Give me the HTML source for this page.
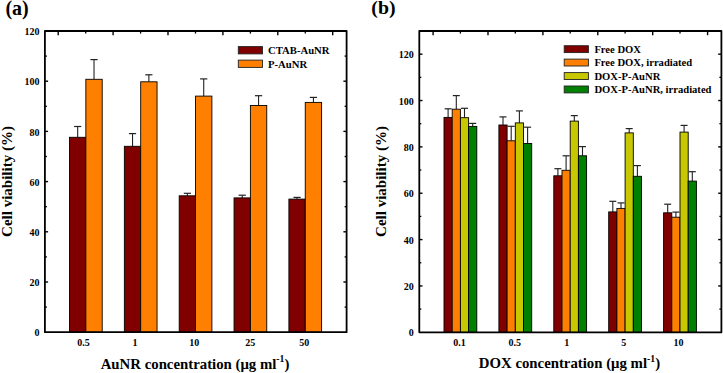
<!DOCTYPE html>
<html><head><meta charset="utf-8"><title>Cell viability charts</title>
<style>html,body{margin:0;padding:0;background:#fff;width:723px;height:373px;overflow:hidden}svg{display:block}</style>
</head><body>
<svg width="723" height="373" viewBox="0 0 723 373" font-family='"Liberation Serif", serif' font-weight="bold">
<rect x="0" y="0" width="723" height="373" fill="#fff"/>
<text x="39.60" y="336.30" font-size="10" text-anchor="end" >0</text>
<line x1="44.90" y1="307.10" x2="46.90" y2="307.10" stroke="#000" stroke-width="1.3"/>
<line x1="344.60" y1="307.10" x2="346.60" y2="307.10" stroke="#000" stroke-width="1.3"/>
<line x1="44.90" y1="282.00" x2="48.10" y2="282.00" stroke="#000" stroke-width="1.4"/>
<line x1="343.40" y1="282.00" x2="346.60" y2="282.00" stroke="#000" stroke-width="1.4"/>
<text x="39.60" y="286.10" font-size="10" text-anchor="end" >20</text>
<line x1="44.90" y1="256.90" x2="46.90" y2="256.90" stroke="#000" stroke-width="1.3"/>
<line x1="344.60" y1="256.90" x2="346.60" y2="256.90" stroke="#000" stroke-width="1.3"/>
<line x1="44.90" y1="231.80" x2="48.10" y2="231.80" stroke="#000" stroke-width="1.4"/>
<line x1="343.40" y1="231.80" x2="346.60" y2="231.80" stroke="#000" stroke-width="1.4"/>
<text x="39.60" y="235.90" font-size="10" text-anchor="end" >40</text>
<line x1="44.90" y1="206.70" x2="46.90" y2="206.70" stroke="#000" stroke-width="1.3"/>
<line x1="344.60" y1="206.70" x2="346.60" y2="206.70" stroke="#000" stroke-width="1.3"/>
<line x1="44.90" y1="181.60" x2="48.10" y2="181.60" stroke="#000" stroke-width="1.4"/>
<line x1="343.40" y1="181.60" x2="346.60" y2="181.60" stroke="#000" stroke-width="1.4"/>
<text x="39.60" y="185.70" font-size="10" text-anchor="end" >60</text>
<line x1="44.90" y1="156.50" x2="46.90" y2="156.50" stroke="#000" stroke-width="1.3"/>
<line x1="344.60" y1="156.50" x2="346.60" y2="156.50" stroke="#000" stroke-width="1.3"/>
<line x1="44.90" y1="131.40" x2="48.10" y2="131.40" stroke="#000" stroke-width="1.4"/>
<line x1="343.40" y1="131.40" x2="346.60" y2="131.40" stroke="#000" stroke-width="1.4"/>
<text x="39.60" y="135.50" font-size="10" text-anchor="end" >80</text>
<line x1="44.90" y1="106.30" x2="46.90" y2="106.30" stroke="#000" stroke-width="1.3"/>
<line x1="344.60" y1="106.30" x2="346.60" y2="106.30" stroke="#000" stroke-width="1.3"/>
<line x1="44.90" y1="81.20" x2="48.10" y2="81.20" stroke="#000" stroke-width="1.4"/>
<line x1="343.40" y1="81.20" x2="346.60" y2="81.20" stroke="#000" stroke-width="1.4"/>
<text x="39.60" y="85.30" font-size="10" text-anchor="end" >100</text>
<line x1="44.90" y1="56.10" x2="46.90" y2="56.10" stroke="#000" stroke-width="1.3"/>
<line x1="344.60" y1="56.10" x2="346.60" y2="56.10" stroke="#000" stroke-width="1.3"/>
<text x="39.60" y="35.10" font-size="10" text-anchor="end" >120</text>
<line x1="58.20" y1="31.00" x2="58.20" y2="35.20" stroke="#000" stroke-width="1.4"/>
<line x1="113.10" y1="31.00" x2="113.10" y2="35.20" stroke="#000" stroke-width="1.4"/>
<line x1="168.00" y1="31.00" x2="168.00" y2="35.20" stroke="#000" stroke-width="1.4"/>
<line x1="222.90" y1="31.00" x2="222.90" y2="35.20" stroke="#000" stroke-width="1.4"/>
<line x1="277.80" y1="31.00" x2="277.80" y2="35.20" stroke="#000" stroke-width="1.4"/>
<line x1="332.70" y1="31.00" x2="332.70" y2="35.20" stroke="#000" stroke-width="1.4"/>
<line x1="85.70" y1="31.00" x2="85.70" y2="33.60" stroke="#000" stroke-width="1.3"/>
<line x1="140.60" y1="31.00" x2="140.60" y2="33.60" stroke="#000" stroke-width="1.3"/>
<line x1="195.50" y1="31.00" x2="195.50" y2="33.60" stroke="#000" stroke-width="1.3"/>
<line x1="250.40" y1="31.00" x2="250.40" y2="33.60" stroke="#000" stroke-width="1.3"/>
<line x1="305.30" y1="31.00" x2="305.30" y2="33.60" stroke="#000" stroke-width="1.3"/>
<line x1="77.67" y1="137.30" x2="77.67" y2="126.50" stroke="#222" stroke-width="1.1"/>
<line x1="74.08" y1="126.50" x2="81.27" y2="126.50" stroke="#222" stroke-width="1.2"/>
<line x1="94.02" y1="79.30" x2="94.02" y2="59.60" stroke="#222" stroke-width="1.1"/>
<line x1="90.42" y1="59.60" x2="97.62" y2="59.60" stroke="#222" stroke-width="1.2"/>
<rect x="69.50" y="137.30" width="16.35" height="194.90" fill="#800000" stroke="#000" stroke-width="0.9"/>
<rect x="85.85" y="79.30" width="16.35" height="252.90" fill="#ff8000" stroke="#000" stroke-width="0.9"/>
<line x1="132.53" y1="146.30" x2="132.53" y2="133.60" stroke="#222" stroke-width="1.1"/>
<line x1="128.93" y1="133.60" x2="136.12" y2="133.60" stroke="#222" stroke-width="1.2"/>
<line x1="148.88" y1="81.80" x2="148.88" y2="74.80" stroke="#222" stroke-width="1.1"/>
<line x1="145.28" y1="74.80" x2="152.47" y2="74.80" stroke="#222" stroke-width="1.2"/>
<rect x="124.35" y="146.30" width="16.35" height="185.90" fill="#800000" stroke="#000" stroke-width="0.9"/>
<rect x="140.70" y="81.80" width="16.35" height="250.40" fill="#ff8000" stroke="#000" stroke-width="0.9"/>
<line x1="187.38" y1="195.80" x2="187.38" y2="193.30" stroke="#222" stroke-width="1.1"/>
<line x1="183.78" y1="193.30" x2="190.97" y2="193.30" stroke="#222" stroke-width="1.2"/>
<line x1="203.72" y1="96.10" x2="203.72" y2="78.90" stroke="#222" stroke-width="1.1"/>
<line x1="200.12" y1="78.90" x2="207.32" y2="78.90" stroke="#222" stroke-width="1.2"/>
<rect x="179.20" y="195.80" width="16.35" height="136.40" fill="#800000" stroke="#000" stroke-width="0.9"/>
<rect x="195.55" y="96.10" width="16.35" height="236.10" fill="#ff8000" stroke="#000" stroke-width="0.9"/>
<line x1="242.23" y1="197.90" x2="242.23" y2="195.20" stroke="#222" stroke-width="1.1"/>
<line x1="238.63" y1="195.20" x2="245.83" y2="195.20" stroke="#222" stroke-width="1.2"/>
<line x1="258.57" y1="105.50" x2="258.57" y2="95.70" stroke="#222" stroke-width="1.1"/>
<line x1="254.97" y1="95.70" x2="262.18" y2="95.70" stroke="#222" stroke-width="1.2"/>
<rect x="234.05" y="197.90" width="16.35" height="134.30" fill="#800000" stroke="#000" stroke-width="0.9"/>
<rect x="250.40" y="105.50" width="16.35" height="226.70" fill="#ff8000" stroke="#000" stroke-width="0.9"/>
<line x1="297.07" y1="199.10" x2="297.07" y2="197.40" stroke="#222" stroke-width="1.1"/>
<line x1="293.47" y1="197.40" x2="300.68" y2="197.40" stroke="#222" stroke-width="1.2"/>
<line x1="313.43" y1="102.40" x2="313.43" y2="97.40" stroke="#222" stroke-width="1.1"/>
<line x1="309.82" y1="97.40" x2="317.03" y2="97.40" stroke="#222" stroke-width="1.2"/>
<rect x="288.90" y="199.10" width="16.35" height="133.10" fill="#800000" stroke="#000" stroke-width="0.9"/>
<rect x="305.25" y="102.40" width="16.35" height="229.80" fill="#ff8000" stroke="#000" stroke-width="0.9"/>
<rect x="44.9" y="31.0" width="301.70" height="301.20" fill="none" stroke="#000" stroke-width="1.8" stroke-linejoin="round"/>
<text x="83.60" y="346.20" font-size="10" text-anchor="middle" >0.5</text>
<text x="134.90" y="346.20" font-size="10" text-anchor="middle" >1</text>
<text x="194.20" y="346.20" font-size="10" text-anchor="middle" >10</text>
<text x="250.30" y="346.20" font-size="10" text-anchor="middle" >25</text>
<text x="304.20" y="346.20" font-size="10" text-anchor="middle" >50</text>
<rect x="238.30" y="46.60" width="24.20" height="7.30" fill="#800000" stroke="#222" stroke-width="0.9"/>
<rect x="238.30" y="60.10" width="24.20" height="7.30" fill="#ff8000" stroke="#222" stroke-width="0.9"/>
<text x="268.00" y="54.10" font-size="10.7" text-anchor="start" >CTAB-AuNR</text>
<text x="268.00" y="67.50" font-size="10.7" text-anchor="start" >P-AuNR</text>
<text x="5.40" y="14.50" font-size="20" text-anchor="start" >(a)</text>
<text x="100.70" y="368.60" font-size="14.8" text-anchor="start" >AuNR concentration (&#956;g ml<tspan font-size="9.7" dy="-6.8">-1</tspan><tspan dy="6.8">)</tspan></text>
<text transform="translate(11.8,181.5) rotate(-90)" font-size="15" text-anchor="middle">Cell viability (%)</text>
<text x="413.80" y="336.40" font-size="10" text-anchor="end" >0</text>
<line x1="419.30" y1="309.12" x2="421.30" y2="309.12" stroke="#000" stroke-width="1.3"/>
<line x1="719.40" y1="309.12" x2="721.40" y2="309.12" stroke="#000" stroke-width="1.3"/>
<line x1="419.30" y1="285.95" x2="422.50" y2="285.95" stroke="#000" stroke-width="1.4"/>
<line x1="718.20" y1="285.95" x2="721.40" y2="285.95" stroke="#000" stroke-width="1.4"/>
<text x="413.80" y="290.05" font-size="10" text-anchor="end" >20</text>
<line x1="419.30" y1="262.77" x2="421.30" y2="262.77" stroke="#000" stroke-width="1.3"/>
<line x1="719.40" y1="262.77" x2="721.40" y2="262.77" stroke="#000" stroke-width="1.3"/>
<line x1="419.30" y1="239.59" x2="422.50" y2="239.59" stroke="#000" stroke-width="1.4"/>
<line x1="718.20" y1="239.59" x2="721.40" y2="239.59" stroke="#000" stroke-width="1.4"/>
<text x="413.80" y="243.69" font-size="10" text-anchor="end" >40</text>
<line x1="419.30" y1="216.42" x2="421.30" y2="216.42" stroke="#000" stroke-width="1.3"/>
<line x1="719.40" y1="216.42" x2="721.40" y2="216.42" stroke="#000" stroke-width="1.3"/>
<line x1="419.30" y1="193.24" x2="422.50" y2="193.24" stroke="#000" stroke-width="1.4"/>
<line x1="718.20" y1="193.24" x2="721.40" y2="193.24" stroke="#000" stroke-width="1.4"/>
<text x="413.80" y="197.34" font-size="10" text-anchor="end" >60</text>
<line x1="419.30" y1="170.06" x2="421.30" y2="170.06" stroke="#000" stroke-width="1.3"/>
<line x1="719.40" y1="170.06" x2="721.40" y2="170.06" stroke="#000" stroke-width="1.3"/>
<line x1="419.30" y1="146.88" x2="422.50" y2="146.88" stroke="#000" stroke-width="1.4"/>
<line x1="718.20" y1="146.88" x2="721.40" y2="146.88" stroke="#000" stroke-width="1.4"/>
<text x="413.80" y="150.98" font-size="10" text-anchor="end" >80</text>
<line x1="419.30" y1="123.71" x2="421.30" y2="123.71" stroke="#000" stroke-width="1.3"/>
<line x1="719.40" y1="123.71" x2="721.40" y2="123.71" stroke="#000" stroke-width="1.3"/>
<line x1="419.30" y1="100.53" x2="422.50" y2="100.53" stroke="#000" stroke-width="1.4"/>
<line x1="718.20" y1="100.53" x2="721.40" y2="100.53" stroke="#000" stroke-width="1.4"/>
<text x="413.80" y="104.63" font-size="10" text-anchor="end" >100</text>
<line x1="419.30" y1="77.35" x2="421.30" y2="77.35" stroke="#000" stroke-width="1.3"/>
<line x1="719.40" y1="77.35" x2="721.40" y2="77.35" stroke="#000" stroke-width="1.3"/>
<line x1="419.30" y1="54.18" x2="422.50" y2="54.18" stroke="#000" stroke-width="1.4"/>
<line x1="718.20" y1="54.18" x2="721.40" y2="54.18" stroke="#000" stroke-width="1.4"/>
<text x="413.80" y="58.28" font-size="10" text-anchor="end" >120</text>
<line x1="433.10" y1="31.00" x2="433.10" y2="35.20" stroke="#000" stroke-width="1.4"/>
<line x1="488.00" y1="31.00" x2="488.00" y2="35.20" stroke="#000" stroke-width="1.4"/>
<line x1="542.90" y1="31.00" x2="542.90" y2="35.20" stroke="#000" stroke-width="1.4"/>
<line x1="597.80" y1="31.00" x2="597.80" y2="35.20" stroke="#000" stroke-width="1.4"/>
<line x1="652.70" y1="31.00" x2="652.70" y2="35.20" stroke="#000" stroke-width="1.4"/>
<line x1="707.60" y1="31.00" x2="707.60" y2="35.20" stroke="#000" stroke-width="1.4"/>
<line x1="460.40" y1="31.00" x2="460.40" y2="33.60" stroke="#000" stroke-width="1.3"/>
<line x1="515.30" y1="31.00" x2="515.30" y2="33.60" stroke="#000" stroke-width="1.3"/>
<line x1="570.20" y1="31.00" x2="570.20" y2="33.60" stroke="#000" stroke-width="1.3"/>
<line x1="625.10" y1="31.00" x2="625.10" y2="33.60" stroke="#000" stroke-width="1.3"/>
<line x1="680.00" y1="31.00" x2="680.00" y2="33.60" stroke="#000" stroke-width="1.3"/>
<line x1="448.10" y1="117.40" x2="448.10" y2="108.80" stroke="#222" stroke-width="1.1"/>
<line x1="444.60" y1="108.80" x2="451.60" y2="108.80" stroke="#222" stroke-width="1.2"/>
<line x1="456.30" y1="109.20" x2="456.30" y2="95.60" stroke="#222" stroke-width="1.1"/>
<line x1="452.80" y1="95.60" x2="459.80" y2="95.60" stroke="#222" stroke-width="1.2"/>
<line x1="464.50" y1="117.70" x2="464.50" y2="108.30" stroke="#222" stroke-width="1.1"/>
<line x1="461.00" y1="108.30" x2="468.00" y2="108.30" stroke="#222" stroke-width="1.2"/>
<line x1="472.70" y1="126.40" x2="472.70" y2="123.40" stroke="#222" stroke-width="1.1"/>
<line x1="469.20" y1="123.40" x2="476.20" y2="123.40" stroke="#222" stroke-width="1.2"/>
<rect x="444.00" y="117.40" width="8.20" height="214.90" fill="#800000" stroke="#000" stroke-width="0.9"/>
<rect x="452.20" y="109.20" width="8.20" height="223.10" fill="#ff8000" stroke="#000" stroke-width="0.9"/>
<rect x="460.40" y="117.70" width="8.20" height="214.60" fill="#c8c800" stroke="#000" stroke-width="0.9"/>
<rect x="468.60" y="126.40" width="8.20" height="205.90" fill="#008000" stroke="#000" stroke-width="0.9"/>
<line x1="503.00" y1="125.00" x2="503.00" y2="116.90" stroke="#222" stroke-width="1.1"/>
<line x1="499.50" y1="116.90" x2="506.50" y2="116.90" stroke="#222" stroke-width="1.2"/>
<line x1="511.20" y1="140.80" x2="511.20" y2="126.30" stroke="#222" stroke-width="1.1"/>
<line x1="507.70" y1="126.30" x2="514.70" y2="126.30" stroke="#222" stroke-width="1.2"/>
<line x1="519.40" y1="122.90" x2="519.40" y2="110.90" stroke="#222" stroke-width="1.1"/>
<line x1="515.90" y1="110.90" x2="522.90" y2="110.90" stroke="#222" stroke-width="1.2"/>
<line x1="527.60" y1="143.50" x2="527.60" y2="127.20" stroke="#222" stroke-width="1.1"/>
<line x1="524.10" y1="127.20" x2="531.10" y2="127.20" stroke="#222" stroke-width="1.2"/>
<rect x="498.90" y="125.00" width="8.20" height="207.30" fill="#800000" stroke="#000" stroke-width="0.9"/>
<rect x="507.10" y="140.80" width="8.20" height="191.50" fill="#ff8000" stroke="#000" stroke-width="0.9"/>
<rect x="515.30" y="122.90" width="8.20" height="209.40" fill="#c8c800" stroke="#000" stroke-width="0.9"/>
<rect x="523.50" y="143.50" width="8.20" height="188.80" fill="#008000" stroke="#000" stroke-width="0.9"/>
<line x1="557.90" y1="175.80" x2="557.90" y2="168.70" stroke="#222" stroke-width="1.1"/>
<line x1="554.40" y1="168.70" x2="561.40" y2="168.70" stroke="#222" stroke-width="1.2"/>
<line x1="566.10" y1="170.30" x2="566.10" y2="155.80" stroke="#222" stroke-width="1.1"/>
<line x1="562.60" y1="155.80" x2="569.60" y2="155.80" stroke="#222" stroke-width="1.2"/>
<line x1="574.30" y1="121.10" x2="574.30" y2="115.60" stroke="#222" stroke-width="1.1"/>
<line x1="570.80" y1="115.60" x2="577.80" y2="115.60" stroke="#222" stroke-width="1.2"/>
<line x1="582.50" y1="155.80" x2="582.50" y2="146.60" stroke="#222" stroke-width="1.1"/>
<line x1="579.00" y1="146.60" x2="586.00" y2="146.60" stroke="#222" stroke-width="1.2"/>
<rect x="553.80" y="175.80" width="8.20" height="156.50" fill="#800000" stroke="#000" stroke-width="0.9"/>
<rect x="562.00" y="170.30" width="8.20" height="162.00" fill="#ff8000" stroke="#000" stroke-width="0.9"/>
<rect x="570.20" y="121.10" width="8.20" height="211.20" fill="#c8c800" stroke="#000" stroke-width="0.9"/>
<rect x="578.40" y="155.80" width="8.20" height="176.50" fill="#008000" stroke="#000" stroke-width="0.9"/>
<line x1="612.80" y1="211.90" x2="612.80" y2="201.30" stroke="#222" stroke-width="1.1"/>
<line x1="609.30" y1="201.30" x2="616.30" y2="201.30" stroke="#222" stroke-width="1.2"/>
<line x1="621.00" y1="208.40" x2="621.00" y2="202.90" stroke="#222" stroke-width="1.1"/>
<line x1="617.50" y1="202.90" x2="624.50" y2="202.90" stroke="#222" stroke-width="1.2"/>
<line x1="629.20" y1="132.90" x2="629.20" y2="128.60" stroke="#222" stroke-width="1.1"/>
<line x1="625.70" y1="128.60" x2="632.70" y2="128.60" stroke="#222" stroke-width="1.2"/>
<line x1="637.40" y1="176.30" x2="637.40" y2="165.60" stroke="#222" stroke-width="1.1"/>
<line x1="633.90" y1="165.60" x2="640.90" y2="165.60" stroke="#222" stroke-width="1.2"/>
<rect x="608.70" y="211.90" width="8.20" height="120.40" fill="#800000" stroke="#000" stroke-width="0.9"/>
<rect x="616.90" y="208.40" width="8.20" height="123.90" fill="#ff8000" stroke="#000" stroke-width="0.9"/>
<rect x="625.10" y="132.90" width="8.20" height="199.40" fill="#c8c800" stroke="#000" stroke-width="0.9"/>
<rect x="633.30" y="176.30" width="8.20" height="156.00" fill="#008000" stroke="#000" stroke-width="0.9"/>
<line x1="667.70" y1="212.80" x2="667.70" y2="204.20" stroke="#222" stroke-width="1.1"/>
<line x1="664.20" y1="204.20" x2="671.20" y2="204.20" stroke="#222" stroke-width="1.2"/>
<line x1="675.90" y1="217.20" x2="675.90" y2="212.10" stroke="#222" stroke-width="1.1"/>
<line x1="672.40" y1="212.10" x2="679.40" y2="212.10" stroke="#222" stroke-width="1.2"/>
<line x1="684.10" y1="132.10" x2="684.10" y2="125.40" stroke="#222" stroke-width="1.1"/>
<line x1="680.60" y1="125.40" x2="687.60" y2="125.40" stroke="#222" stroke-width="1.2"/>
<line x1="692.30" y1="181.10" x2="692.30" y2="171.70" stroke="#222" stroke-width="1.1"/>
<line x1="688.80" y1="171.70" x2="695.80" y2="171.70" stroke="#222" stroke-width="1.2"/>
<rect x="663.60" y="212.80" width="8.20" height="119.50" fill="#800000" stroke="#000" stroke-width="0.9"/>
<rect x="671.80" y="217.20" width="8.20" height="115.10" fill="#ff8000" stroke="#000" stroke-width="0.9"/>
<rect x="680.00" y="132.10" width="8.20" height="200.20" fill="#c8c800" stroke="#000" stroke-width="0.9"/>
<rect x="688.20" y="181.10" width="8.20" height="151.20" fill="#008000" stroke="#000" stroke-width="0.9"/>
<rect x="419.3" y="31.0" width="302.10" height="301.30" fill="none" stroke="#000" stroke-width="1.8" stroke-linejoin="round"/>
<text x="459.40" y="346.00" font-size="10" text-anchor="middle" >0.1</text>
<text x="514.70" y="346.00" font-size="10" text-anchor="middle" >0.5</text>
<text x="566.70" y="346.00" font-size="10" text-anchor="middle" >1</text>
<text x="623.80" y="346.00" font-size="10" text-anchor="middle" >5</text>
<text x="678.50" y="346.00" font-size="10" text-anchor="middle" >10</text>
<rect x="564.20" y="45.70" width="24.20" height="6.90" fill="#800000" stroke="#222" stroke-width="0.9"/>
<text x="594.40" y="52.90" font-size="10.6" text-anchor="start" >Free DOX</text>
<rect x="564.20" y="59.10" width="24.20" height="6.90" fill="#ff8000" stroke="#222" stroke-width="0.9"/>
<text x="594.40" y="66.30" font-size="10.6" text-anchor="start" >Free DOX, irradiated</text>
<rect x="564.20" y="72.60" width="24.20" height="6.90" fill="#c8c800" stroke="#222" stroke-width="0.9"/>
<text x="594.40" y="79.80" font-size="10.6" text-anchor="start" >DOX-P-AuNR</text>
<rect x="564.20" y="86.00" width="24.20" height="6.90" fill="#008000" stroke="#222" stroke-width="0.9"/>
<text x="594.40" y="93.20" font-size="10.6" text-anchor="start" >DOX-P-AuNR, irradiated</text>
<text x="371.30" y="14.40" font-size="19.8" text-anchor="start" >(b)</text>
<text x="478.80" y="368.40" font-size="14.8" text-anchor="start" >DOX concentration (&#956;g ml<tspan font-size="9.7" dy="-6.8">-1</tspan><tspan dy="6.8">)</tspan></text>
<text transform="translate(385.8,181.5) rotate(-90)" font-size="15" text-anchor="middle">Cell viability (%)</text>
</svg>
</body></html>
